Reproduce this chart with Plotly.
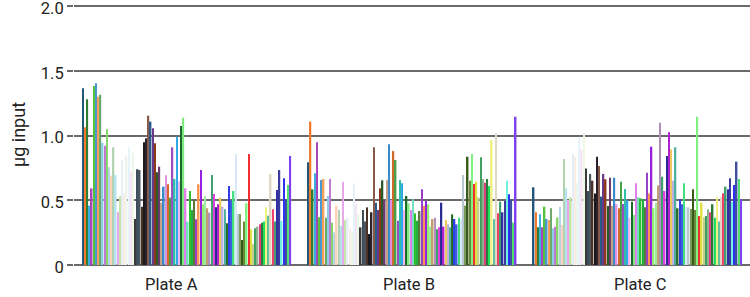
import plotly.graph_objects as go

plates = ["Plate A", "Plate B", "Plate C"]
plate_label_shift = [-15, -3, 3]

plate_a = [1.365, 1.063, 1.28, 0.458, 0.592, 1.382, 1.403, 1.30, 1.315, 0.944, 0.921, 1.048,
           0.754, 0.69, 0.909, 0.695, 0.407, 0.533, 0.81, 0.55, 0.84, 0.906, 0.72, 0.862,
           0.355, 0.739, 0.733, 0.45, 0.947, 0.978, 1.153, 1.107, 1.055, 0.94, 0.716, 0.759,
           0.481, 0.605, 0.693, 0.623, 0.52, 0.909, 0.664, 0.991, 0.646, 1.073, 1.138, 0.592,
           0.335, 0.571, 0.425, 0.497, 0.353, 0.623, 0.733, 0.469, 0.533, 0.438, 0.404, 0.695,
           0.548, 0.445, 0.469, 0.52, 0.45, 0.43, 0.322, 0.61, 0.497, 0.571, 0.857, 0.394,
           0.394, 0.193, 0.335, 0.476, 0.857, 0.276, 0.16, 0.283, 0.296, 0.314, 0.327, 0.335,
           0.445, 0.381, 0.703, 0.43, 0.335, 0.579, 0.733, 0.34, 0.669, 0.51, 0.618, 0.842]

plate_b = [0.793, 1.107, 0.584, 0.708, 0.947, 0.368, 0.656, 0.664, 0.365, 0.533, 0.664, 0.327,
           0.252, 0.458, 0.425, 0.304, 0.643, 0.347, 0.365, 0.283, 0.257, 0.631, 0.476, 0.394,
           0.291, 0.425, 0.335, 0.445, 0.239, 0.407, 0.909, 0.481, 0.425, 0.592, 0.654, 0.497,
           0.656, 0.932, 0.502, 0.88, 0.811, 0.342, 0.656, 0.631, 0.425, 0.533, 0.476, 0.425,
           0.507, 0.399, 0.342, 0.417, 0.584, 0.458, 0.494, 0.469, 0.296, 0.355, 0.365, 0.276,
           0.291, 0.481, 0.296, 0.347, 0.314, 0.291, 0.391, 0.355, 0.314, 0.365, 0.355, 0.695,
           0.458, 0.836, 0.651, 0.857, 0.625, 0.643, 0.523, 0.832, 0.664, 0.636, 0.664, 0.61,
           0.965, 0.355, 1.017, 0.399, 0.489, 0.407, 0.494, 0.651, 0.546, 0.507, 0.327, 1.145]

plate_c = [0.6, 0.407, 0.291, 0.391, 0.291, 0.45, 0.355, 0.347, 0.438, 0.283, 0.296, 0.368,
           0.45, 0.309, 0.819, 0.592, 0.502, 0.523, 0.857, 0.836, 0.636, 0.983, 0.893, 1.022,
           0.746, 0.571, 0.703, 0.651, 0.553, 0.836, 0.764, 0.528, 0.703, 0.662, 0.456, 0.674,
           0.458, 0.674, 0.469, 0.438, 0.643, 0.471, 0.587, 0.497, 0.365, 0.489, 0.386, 0.631,
           0.523, 0.515, 0.507, 0.445, 0.713, 0.553, 0.914, 0.438, 0.481, 0.613, 1.099, 0.682,
           0.571, 0.842, 1.025, 0.893, 0.651, 0.909, 0.438, 0.507, 0.469, 0.631, 0.45, 0.445,
           0.432, 0.584, 0.425, 1.145, 0.378, 0.481, 0.368, 0.378, 0.43, 0.407, 0.469, 0.365,
           0.523, 0.335, 0.523, 0.553, 0.605, 0.584, 0.669, 0.489, 0.618, 0.798, 0.664, 0.51]

well_colors = [
    "#22577a", "#f07a2a", "#2e7d32", "#3bb0e0", "#a845b8", "#56c13a", "#4a98d0", "#f6a05a",
    "#6aaa6a", "#8ccde8", "#c27ad0", "#86d66a",
    "#b8d4ea", "#fcd2b8", "#b2d2b2", "#b5e3f2", "#e6a8e6", "#c5e6a8", "#e6eff8", "#fbece4",
    "#edf5ed", "#e6f4fa", "#f6e4f6", "#ecf7e6",
    "#3a3a3a", "#3d4d5a", "#4a5560", "#4a3326", "#1a1a1a", "#2a2030", "#8a5a48", "#2a5a8a",
    "#6a3a8a", "#8a3a1a", "#2a5a2a", "#6a3a6a",
    "#c8a088", "#3a8ac8", "#e090e0", "#d06a2a", "#4aa04a", "#9a50c0", "#30c0a8", "#30a8e8",
    "#f0b8f0", "#1a6a2a", "#80e880", "#e080e8",
    "#70e0c0", "#30c030", "#20b040", "#5a7a3a", "#9a40c8", "#f89850", "#9a20e0", "#90f070",
    "#a0e8a0", "#c0a070", "#b090b8", "#40a070",
    "#e040e0", "#2a2a90", "#b020d0", "#f0c860", "#c0b0e0", "#50b0a0", "#2a6a2a", "#3040e0",
    "#3a60e0", "#40e080", "#d8e8f8", "#b8c8d0",
    "#7a9a5a", "#3a5a1a", "#6a8a3a", "#80f080", "#f03030", "#e0e040", "#c0d090", "#40a060",
    "#90b090", "#e04080", "#2a7a3a", "#20e060",
    "#f0f080", "#60c0a0", "#e0d8c0", "#f04070", "#40a070", "#3030a0", "#3a3aa0", "#70f0e0",
    "#3030f0", "#4050a0", "#50e070", "#8040f0",
]

y_ticks = [0, 0.5, 1.0, 1.5, 2.0]
y_tick_text = ["0", "0.5", "1.0", "1.5", "2.0"]

FONT = "Roboto, sans-serif"
TEXT_COLOR = "#222222"
GRID = "#6a6a6a"
FS = 16.5

fig = go.Figure()
for i, col in enumerate(well_colors):
    fig.add_trace(go.Bar(
        x=plates,
        y=[plate_a[i], plate_b[i], plate_c[i]],
        marker=dict(color=col, line=dict(width=0)),
        showlegend=False,
        hoverinfo="y",
    ))

for name, shift in zip(plates, plate_label_shift):
    fig.add_annotation(
        x=name, xref="x", y=0, yref="paper",
        yanchor="top", yshift=-8, xshift=shift,
        text=name, showarrow=False,
        font=dict(family=FONT, size=16.5, color=TEXT_COLOR),
    )

fig.update_layout(
    barmode="group",
    bargap=0.07,
    bargroupgap=0.3,
    width=750,
    height=297,
    margin=dict(l=74, r=0, t=4, b=32, autoexpand=False),
    paper_bgcolor="white",
    plot_bgcolor="white",
    font=dict(family=FONT, color=TEXT_COLOR, size=FS),
    xaxis=dict(
        showgrid=False,
        showline=False,
        ticks="",
        showticklabels=False,
        automargin=False,
    ),
    yaxis=dict(
        range=[0, 2.0154],
        automargin=False,
        tickvals=y_ticks,
        ticktext=y_tick_text,
        ticklabeloverflow="allow",
        ticklabelshift=2,
        showgrid=True,
        gridcolor=GRID,
        gridwidth=1.5,
        zeroline=True,
        zerolinecolor=GRID,
        zerolinewidth=1.5,
        ticks="outside",
        ticklen=6,
        tickcolor=GRID,
        tickwidth=1.5,
        tickfont=dict(family=FONT, size=FS, color=TEXT_COLOR),
        title=dict(text="µg input", font=dict(family=FONT, size=18, color=TEXT_COLOR), standoff=10),
    ),
)

fig.write_html("out.html")
